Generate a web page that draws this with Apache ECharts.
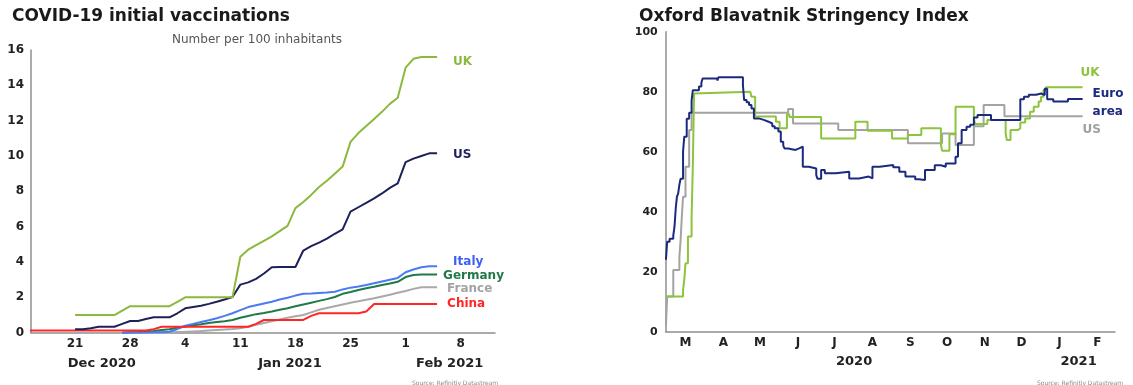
<!DOCTYPE html>
<html>
<head>
<meta charset="utf-8">
<script src="https://cdn.jsdelivr.net/npm/echarts@6/dist/echarts.min.js"></script>
<style>
  html, body { margin: 0; padding: 0; background: #ffffff; }
  #chart { width: 1133px; height: 385px; }
</style>
</head>
<body>
<div id="chart"></div>
<script>
// ---------- COVID-19 initial vaccinations, per 100 inhabitants ----------
// Daily values; day numbers count from 1 Dec 2020 = day 1 (so 1 Jan 2021 = day 32).
const vaxFirstDay = 15;
const vaxUK = [null, null, null, null, null, null,
  1.0, 1.0, 1.0, 1.0, 1.0, 1.0, 1.25, 1.5, 1.5, 1.5, 1.5, 1.5, 1.5, 1.75, 2.0, 2.0, 2.0, 2.0, 2.0, 2.0, 2.0,
  4.3, 4.7, 4.95, 5.2, 5.45, 5.75, 6.05, 7.05, 7.4, 7.8, 8.25, 8.6, 9.0, 9.4, 10.8, 11.3, 11.7, 12.1, 12.5,
  12.95, 13.3, 15.0, 15.5, 15.6, 15.6, 15.6];
const vaxUS = [null, null, null, null, null, null,
  0.2, 0.2, 0.25, 0.34, 0.34, 0.34, 0.5, 0.66, 0.66, 0.77, 0.87, 0.87, 0.87, 1.1, 1.38, 1.45, 1.52, 1.63, 1.75, 1.88, 2.02,
  2.72, 2.85, 3.05, 3.35, 3.7, 3.72, 3.72, 3.72, 4.65, 4.9, 5.1, 5.32, 5.6, 5.85, 6.85, 7.1, 7.35, 7.6, 7.88,
  8.2, 8.45, 9.65, 9.85, 10.0, 10.15, 10.15];
const vaxItaly = [null, null, null, null, null, null, null, null, null, null, null, null,
  0, 0, 0, 0.01, 0.02, 0.03, 0.05, 0.2, 0.4, 0.5, 0.6, 0.7, 0.82, 0.95, 1.1,
  1.28, 1.45, 1.55, 1.65, 1.75, 1.88, 1.98, 2.1, 2.2, 2.22, 2.25, 2.28, 2.32, 2.45, 2.55, 2.62, 2.7, 2.8, 2.9,
  3.0, 3.1, 3.42, 3.58, 3.7, 3.76, 3.76];
const vaxGermany = [null, null, null, null, null, null, null, null, null, null, null, null,
  0, 0.02, 0.04, 0.07, 0.1, 0.15, 0.2, 0.28, 0.35, 0.42, 0.48, 0.55, 0.6, 0.65, 0.72,
  0.85, 0.95, 1.05, 1.12, 1.2, 1.3, 1.38, 1.5, 1.6, 1.7, 1.8, 1.9, 2.02, 2.2, 2.3, 2.42, 2.52, 2.6, 2.7,
  2.78, 2.88, 3.15, 3.27, 3.3, 3.3, 3.3];
const vaxFrance = [null, null, null, null, null, null, null, null, null, null, null, null,
  0, 0, 0, 0, 0.01, 0.02, 0.03, 0.04, 0.05, 0.07, 0.09, 0.12, 0.15, 0.18, 0.21,
  0.25, 0.33, 0.45, 0.55, 0.65, 0.75, 0.85, 0.93, 1.0, 1.15, 1.3, 1.4, 1.5, 1.6, 1.7, 1.78, 1.87, 1.95, 2.05,
  2.15, 2.26, 2.36, 2.48, 2.57, 2.57, 2.57];
const vaxChina = [0.12, 0.12, 0.12, 0.12, 0.12, 0.12, 0.12, 0.12, 0.12, 0.12, 0.12, 0.12, 0.12, 0.12, 0.12, 0.12,
  0.2, 0.34, 0.34, 0.34, 0.34, 0.34, 0.34, 0.34, 0.34, 0.34, 0.34, 0.34, 0.34,
  0.5, 0.72, 0.72, 0.72, 0.72, 0.72, 0.72, 0.95, 1.1, 1.1, 1.1, 1.1, 1.1, 1.1, 1.2,
  1.62, 1.62, 1.62, 1.62, 1.62, 1.62, 1.62, 1.62, 1.62];
const vaxDayTicks = [21, 28, 35, 42, 49, 56, 63, 70];
const vaxDayLabels = ['21', '28', '4', '11', '18', '25', '1', '8'];
const vaxMonthPos = [24.4, 48.3, 68.6];
const vaxMonthLabels = ['Dec 2020', 'Jan 2021', 'Feb 2021'];
const vaxYTicks = [0, 2, 4, 6, 8, 10, 12, 14, 16];

// ---------- Oxford Blavatnik Stringency Index ----------
// [day, index] at each change of level; day 0 = 1 Jan 2020.
const sEuroArea = [[58, 24], [59, 30], [61, 31], [64, 32], [65, 35], [66, 41], [67, 45], [68, 46], [69, 49], [70, 51],
  [72, 60], [73, 65], [75, 71], [77, 73], [79, 77], [80, 80.5], [85, 81.7], [87, 83], [88, 84.4], [100, 83.7],
  [101, 84.8], [121, 82.2], [122, 77.2], [124, 76.5], [126, 75.6], [128, 74.4], [130, 71.1], [134, 70.6],
  [138, 70], [142, 69.4], [145, 68.5], [147, 67.8], [150, 66.7], [152, 63.3], [154, 62], [155, 61.1],
  [158, 60.6], [164, 61.1], [167, 61.7], [170, 55], [175, 54.4], [181, 52.2], [182, 51], [185, 53.9],
  [188, 52.8], [197, 53.3], [208, 51.1], [216, 51.7], [224, 51.1], [227, 55], [233, 55.6], [244, 54.8],
  [249, 53.3], [254, 51.7], [262, 50.8], [265, 50.6], [270, 53.9], [278, 55.5], [283, 55], [287, 56.1],
  [295, 58.3], [297, 62.8], [300, 67.2], [304, 68.3], [307, 69], [310, 71.4], [313, 72.2], [324, 70.6],
  [348, 77.5], [351, 78.3], [355, 79], [361, 79.4], [365, 78.9], [368, 81], [370, 77.5], [375, 76.7],
  [387, 77.6], [399, 77.6]];
const sUK = [[58, 11.7], [72, 14], [73, 17.2], [74, 22.8], [76, 31.7], [79, 38.3], [80, 55], [81, 79.4], [82, 80],
  [127, 79.5], [128, 78.3], [131, 71.7], [148, 70], [151, 67.8], [157, 72.5], [159, 71.6], [185, 64.4],
  [213, 70], [223, 67], [243, 64.4], [256, 65.6], [267, 67.8], [283, 62.5], [284, 60.3], [290, 65.8],
  [295, 75], [310, 71.1], [311, 69.2], [321, 70.6], [336, 66], [337, 63.9], [340, 67.2], [346, 67.8],
  [348, 69.7], [352, 71.1], [356, 73.3], [359, 75], [363, 76.7], [365, 78.3], [367, 80.6], [369, 81.5],
  [399, 81.5]];
const sUS = [[58, 2], [59, 11.7], [64, 20.6], [69, 25], [70, 30.6], [71, 38.3], [72, 45], [74, 55], [77, 67.2],
  [79, 73], [158, 74.2], [162, 69.4], [199, 67.2], [256, 62.8], [284, 66.1], [295, 62.2], [310, 68.5],
  [318, 75.6], [335, 71.8], [399, 71.8]];
const sMonthDays = [74, 105, 135, 166, 196, 227, 258, 288, 319, 349, 380, 411];
const sMonthLabels = ['M', 'A', 'M', 'J', 'J', 'A', 'S', 'O', 'N', 'D', 'J', 'F'];
const sYearPos = [212, 395.7];
const sYearLabels = ['2020', '2021'];

const FONT = 'DejaVu Sans';
const AXIS_GREY = '#8f8f8f';

function daily(first, values) {
  return values.map((v, i) => [first + i, v]).filter(p => p[1] !== null);
}

function labelFrom(values, labels) {
  return v => {
    const i = values.findIndex(t => Math.abs(t - v) < 1e-6);
    return i >= 0 ? labels[i] : '';
  };
}

function vaxLine(name, values, color, labelColor, offset) {
  return {
    name, type: 'line', xAxisIndex: 0, yAxisIndex: 0,
    data: daily(vaxFirstDay, values),
    symbol: 'none', lineStyle: { color, width: 2 }, itemStyle: { color },
    emphasis: { disabled: true },
    endLabel: {
      show: true, formatter: name, color: labelColor, fontFamily: FONT,
      fontWeight: 'bold', fontSize: 12, distance: 0, offset
    }
  };
}

function stepLine(name, data, color, labelText, labelColor, offset) {
  return {
    name, type: 'line', xAxisIndex: 2, yAxisIndex: 1,
    data, step: 'end',
    symbol: 'none', lineStyle: { color, width: 2 }, itemStyle: { color },
    emphasis: { disabled: true },
    endLabel: {
      show: true, formatter: labelText, color: labelColor, fontFamily: FONT,
      fontWeight: 'bold', fontSize: 12, lineHeight: 18, distance: 0, offset
    }
  };
}

const vaxMin = 15.4, vaxMax = 74.36;
const sMin = 57.8, sMax = 425.5;

const chart = echarts.init(document.getElementById('chart'), null, { renderer: 'canvas' });
chart.setOption({
  animation: false,
  backgroundColor: '#ffffff',
  textStyle: { fontFamily: FONT },
  title: [
    { text: 'COVID-19 initial vaccinations', left: 7, top: 3,
      textStyle: { fontFamily: FONT, fontSize: 17, fontWeight: 'bold', color: '#1a1a1a' } },
    { text: 'Number per 100 inhabitants', left: 167, top: 29,
      textStyle: { fontFamily: FONT, fontSize: 12, fontWeight: 'normal', color: '#555555' } },
    { text: 'Oxford Blavatnik Stringency Index', left: 634, top: 3,
      textStyle: { fontFamily: FONT, fontSize: 17, fontWeight: 'bold', color: '#1a1a1a' } },
    { text: 'Source: Refinitiv Datastream', left: 407, top: 375,
      textStyle: { fontFamily: FONT, fontSize: 6, fontWeight: 'normal', color: '#8a8a8a' } },
    { text: 'Source: Refinitiv Datastream', left: 1032, top: 375,
      textStyle: { fontFamily: FONT, fontSize: 6, fontWeight: 'normal', color: '#8a8a8a' } }
  ],
  grid: [
    { left: 31, top: 50, width: 464, height: 282.7, containLabel: false },
    { left: 665.7, top: 31.7, width: 449.3, height: 300, containLabel: false }
  ],
  xAxis: [
    { type: 'value', gridIndex: 0, min: vaxMin, max: vaxMax,
      axisLine: { show: true, onZero: false, lineStyle: { color: AXIS_GREY, width: 1.5 } },
      axisTick: { show: false }, splitLine: { show: false },
      axisLabel: { customValues: vaxDayTicks, formatter: labelFrom(vaxDayTicks, vaxDayLabels),
        fontFamily: FONT, fontWeight: 'bold', fontSize: 12, color: '#222222', margin: 5 } },
    { type: 'value', gridIndex: 0, min: vaxMin, max: vaxMax, position: 'bottom', offset: 19,
      axisLine: { show: false }, axisTick: { show: false }, splitLine: { show: false },
      axisLabel: { customValues: vaxMonthPos, formatter: labelFrom(vaxMonthPos, vaxMonthLabels),
        fontFamily: FONT, fontWeight: 'bold', fontSize: 13, color: '#222222', margin: 5 } },
    { type: 'value', gridIndex: 1, min: sMin, max: sMax,
      axisLine: { show: true, onZero: false, lineStyle: { color: AXIS_GREY, width: 1.5 } },
      axisTick: { show: false }, splitLine: { show: false },
      axisLabel: { customValues: sMonthDays, formatter: labelFrom(sMonthDays, sMonthLabels),
        fontFamily: FONT, fontWeight: 'bold', fontSize: 12, color: '#222222', margin: 5 } },
    { type: 'value', gridIndex: 1, min: sMin, max: sMax, position: 'bottom', offset: 18,
      axisLine: { show: false }, axisTick: { show: false }, splitLine: { show: false },
      axisLabel: { customValues: sYearPos, formatter: labelFrom(sYearPos, sYearLabels),
        fontFamily: FONT, fontWeight: 'bold', fontSize: 13, color: '#222222', margin: 5 } }
  ],
  yAxis: [
    { type: 'value', gridIndex: 0, min: 0, max: 16, interval: 2,
      axisLine: { show: true, lineStyle: { color: AXIS_GREY, width: 1.5 } },
      axisTick: { show: false }, splitLine: { show: false },
      axisLabel: { fontFamily: FONT, fontWeight: 'bold', fontSize: 12, color: '#222222', margin: 7 } },
    { type: 'value', gridIndex: 1, min: 0, max: 100, interval: 20,
      axisLine: { show: true, lineStyle: { color: AXIS_GREY, width: 1.5 } },
      axisTick: { show: false }, splitLine: { show: false },
      axisLabel: { fontFamily: FONT, fontWeight: 'bold', fontSize: 11, color: '#222222', margin: 8 } }
  ],
  series: [
    vaxLine('France', vaxFrance, '#a9a9a9', '#a3a3a3', [10, 2]),
    vaxLine('Germany', vaxGermany, '#1f7a47', '#1f7a47', [6, 1]),
    vaxLine('Italy', vaxItaly, '#4b7af2', '#3c5ff5', [16, -4]),
    vaxLine('China', vaxChina, '#ff2626', '#ff2626', [10, 0]),
    vaxLine('US', vaxUS, '#1c2258', '#1c2258', [16, 2]),
    vaxLine('UK', vaxUK, '#8db83e', '#8db83e', [16, 5]),
    stepLine('US', sUS, '#a3a3a3', 'US', '#9e9e9e', [0, 14]),
    stepLine('UK', sUK, '#8cc43c', 'UK', '#8cc43c', [-2, -14]),
    stepLine('Euro area', sEuroArea, '#1b2a7e', 'Euro\narea', '#1b2a7e', [10, 4])
  ]
});
</script>
</body>
</html>
